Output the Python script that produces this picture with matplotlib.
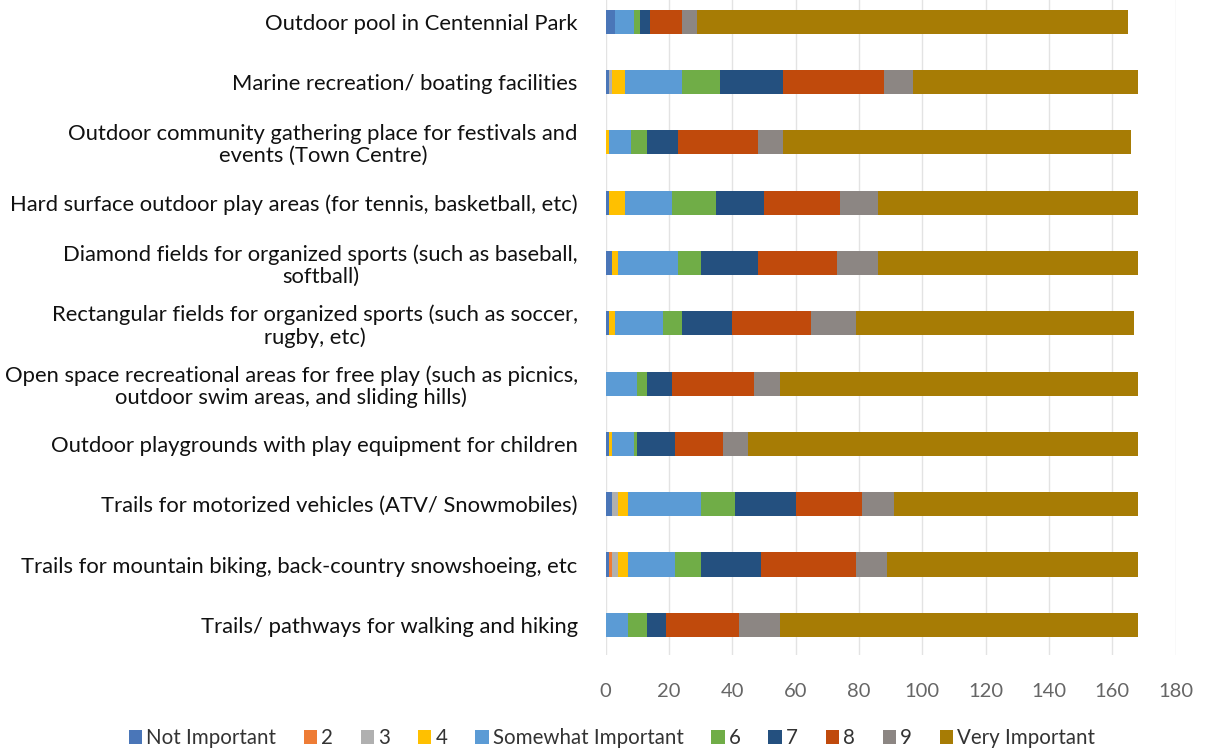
import matplotlib.pyplot as plt
import numpy as np

plt.rcParams['font.family'] = ['Lato', 'DejaVu Sans']

# survey items, top to bottom
items = [
    'Outdoor pool in Centennial Park',
    'Marine recreation/ boating facilities',
    'Outdoor community gathering place for festivals and\nevents (Town Centre)',
    'Hard surface outdoor play areas (for tennis, basketball, etc)',
    'Diamond fields for organized sports (such as baseball,\nsoftball)',
    'Rectangular fields for organized sports (such as soccer,\nrugby, etc)',
    'Open space recreational areas for free play (such as picnics,\noutdoor swim areas, and sliding hills)',
    'Outdoor playgrounds with play equipment for children',
    'Trails for motorized vehicles (ATV/ Snowmobiles)',
    'Trails for mountain biking, back-country snowshoeing, etc',
    'Trails/ pathways for walking and hiking',
]

levels = ['Not Important', '2', '3', '4', 'Somewhat Important',
          '6', '7', '8', '9', 'Very Important']

# response counts per rating, one list per rating, same order as items
not_important = [3, 1, 0, 1, 2, 1, 0, 1, 2, 1, 0]
r2 = [0, 0, 0, 0, 0, 0, 0, 0, 0, 1, 0]
r3 = [0, 1, 0, 0, 0, 0, 0, 0, 2, 2, 0]
r4 = [0, 4, 1, 5, 2, 2, 0, 1, 3, 3, 0]
somewhat = [6, 18, 7, 15, 19, 15, 10, 7, 23, 15, 7]
r6 = [2, 12, 5, 14, 7, 6, 3, 1, 11, 8, 6]
r7 = [3, 20, 10, 15, 18, 16, 8, 12, 19, 19, 6]
r8 = [10, 32, 25, 24, 25, 25, 26, 15, 21, 30, 23]
r9 = [5, 9, 8, 12, 13, 14, 8, 8, 10, 10, 13]
very_important = [136, 71, 110, 82, 82, 88, 113, 123, 77, 79, 113]

series = [not_important, r2, r3, r4, somewhat, r6, r7, r8, r9, very_important]
colors = ['#4A76B8', '#EE7C35', '#B0B0B0', '#FFC000', '#5B9BD5',
          '#70AD47', '#24507F', '#C04A0C', '#8C8683', '#A77C05']

fig = plt.figure(figsize=(12.07, 7.53), dpi=100)
ax = fig.add_axes([605.5 / 1207, 1 - 655 / 753, 570 / 1207, 655 / 753])

y = np.arange(len(items))
left = np.zeros(len(items))
for vals, name, c in zip(series, levels, colors):
    ax.barh(y, vals, left=left, height=0.4, color=c, label=name, zorder=3)
    left += np.array(vals)

ax.set_xlim(0, 180)
ax.set_xticks(range(0, 181, 20))
ax.set_ylim(10.5, -0.36)
ax.set_yticks(y)
ax.set_yticklabels(items, fontsize=15.8, color='#111111',
                   multialignment='center', linespacing=1.12)
ax.tick_params(axis='y', length=0, pad=20)
ax.tick_params(axis='x', length=0, pad=20, labelsize=14.5, labelcolor='#666666')
ax.grid(axis='x', color='#E3E3E3', linewidth=1, zorder=0)
for s in ax.spines.values():
    s.set_visible(False)

fig.legend(loc='lower center', bbox_to_anchor=(0.507, -0.018), ncol=10, frameon=False,
           fontsize=14.8, handlelength=0.65, handleheight=0.7, handletextpad=0.2,
           columnspacing=1.35, labelcolor='#333333')

plt.savefig('out.png', dpi=100)
